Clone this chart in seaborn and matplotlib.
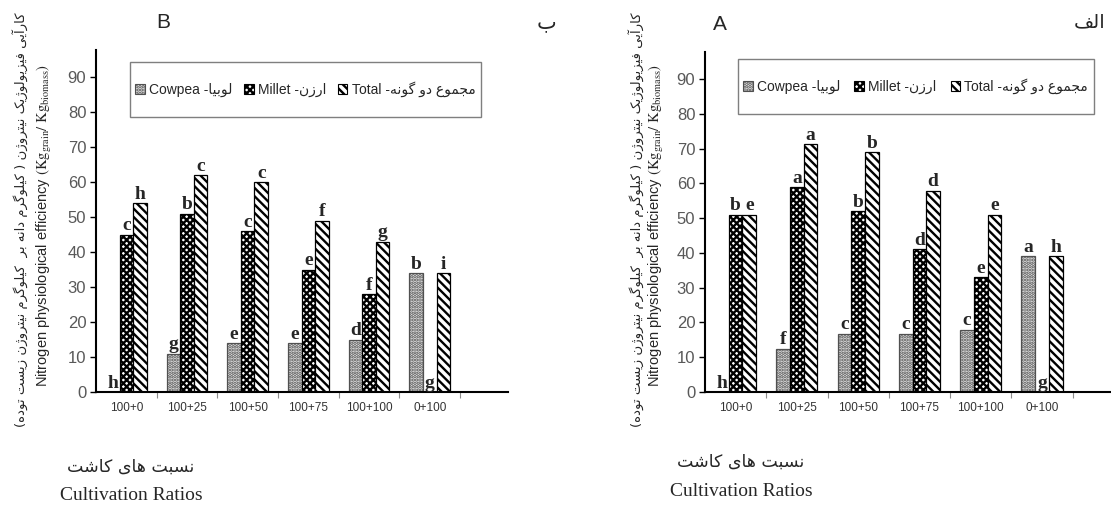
import matplotlib
matplotlib.use("Agg")
import matplotlib.pyplot as plt
from matplotlib.patches import Patch, Rectangle
import pandas as pd
import seaborn as sns

ratios = ["100+0", "100+25", "100+50", "100+75", "100+100", "0+100"]
crops = ["Cowpea", "Millet", "Total"]

# panel B (ب)
b_cowpea = [0, 11, 14, 14, 15, 34]
b_millet = [45, 51, 46, 35, 28, 0]
b_total = [54, 62, 60, 49, 43, 34]
b_letters = {
    "Cowpea": ["h", "g", "e", "e", "d", "b"],
    "Millet": ["c", "b", "c", "e", "f", "g"],
    "Total": ["h", "c", "c", "f", "g", "i"],
}

# panel A (الف)
a_cowpea = [0, 12.4, 16.8, 16.8, 17.9, 39]
a_millet = [51, 58.9, 52, 41, 33, 0]
a_total = [51, 71.3, 68.9, 57.9, 51, 39]
a_letters = {
    "Cowpea": ["h", "f", "c", "c", "c", "a"],
    "Millet": ["b", "a", "b", "d", "e", "g"],
    "Total": ["e", "a", "b", "d", "e", "h"],
}

legend_fa = {"Cowpea": "لوبیا", "Millet": "ارزن", "Total": "مجموع دو گونه"}
ylabel_fa = "کارآیی فیزیولوژیک نیتروژن ( کیلوگرم دانه بر  کیلوگرم نیتروژن زیست توده)"
xlabel_fa = "نسبت های کاشت"
xlabel_en = "Cultivation Ratios"
ylabel_en = (r"Nitrogen physiological efficiency "
             r"$(\mathrm{Kg}_{\mathrm{grain}}/\ \mathrm{Kg}_{\mathrm{biomass}})$")

# matplotlib does no Arabic shaping, so pick presentation forms by hand
FORMS = {
    "\u0627": "\uFE8D\uFE8E", "\u0622": "\uFE81\uFE82",
    "\u0628": "\uFE8F\uFE90\uFE91\uFE92", "\u062A": "\uFE95\uFE96\uFE97\uFE98",
    "\u062C": "\uFE9D\uFE9E\uFE9F\uFEA0", "\u062F": "\uFEA9\uFEAA",
    "\u0631": "\uFEAD\uFEAE", "\u0632": "\uFEAF\uFEB0", "\u0698": "\uFB8A\uFB8B",
    "\u0633": "\uFEB1\uFEB2\uFEB3\uFEB4", "\u0634": "\uFEB5\uFEB6\uFEB7\uFEB8",
    "\u0639": "\uFEC9\uFECA\uFECB\uFECC", "\u0641": "\uFED1\uFED2\uFED3\uFED4",
    "\u06A9": "\uFB8E\uFB8F\uFB90\uFB91", "\u06AF": "\uFB92\uFB93\uFB94\uFB95",
    "\u0644": "\uFEDD\uFEDE\uFEDF\uFEE0", "\u0645": "\uFEE1\uFEE2\uFEE3\uFEE4",
    "\u0646": "\uFEE5\uFEE6\uFEE7\uFEE8", "\u0647": "\uFEE9\uFEEA\uFEEB\uFEEC",
    "\u0648": "\uFEED\uFEEE", "\u06CC": "\uFBFC\uFBFD\uFBFE\uFBFF",
}


def fa(text):
    s = text.replace("\u0643", "\u06A9").replace("\u064A", "\u06CC")
    out = []
    for i, ch in enumerate(s):
        forms = FORMS.get(ch)
        if forms is None:
            out.append({"(": ")", ")": "("}.get(ch, ch))
            continue
        prev = s[i - 1] if i > 0 else ""
        nxt = s[i + 1] if i + 1 < len(s) else ""
        jp = len(FORMS.get(prev, "")) == 4
        jn = len(forms) == 4 and nxt in FORMS
        idx = 3 if (jp and jn) else 1 if jp else 2 if jn else 0
        out.append(forms[idx])
    return "".join(reversed(out))


sns.set_style("white")
plt.rcParams["font.family"] = ["Liberation Sans", "DejaVu Sans"]
plt.rcParams["mathtext.fontset"] = "stix"
plt.rcParams["hatch.linewidth"] = 1.7

styles = {
    "Cowpea": dict(facecolor="#e6e6e6", edgecolor="#505050", hatch="....."),
    "Millet": dict(facecolor="white", edgecolor="black", hatch="xxxxx"),
    "Total": dict(facecolor="white", edgecolor="black", hatch="\\\\\\\\"),
}


def draw_panel(ax, cowpea, millet, total, letters, xmax, legend_box):
    df = pd.DataFrame({
        "ratio": ratios * 3,
        "crop": [c for c in crops for _ in ratios],
        "value": cowpea + millet + total,
    })
    sns.barplot(data=df, x="ratio", y="value", hue="crop", order=ratios,
                hue_order=crops, width=0.67, saturation=1, errorbar=None,
                legend=False, ax=ax)
    for cont, crop in zip(ax.containers, crops):
        for bar in cont:
            bar.set(linewidth=0.9, **styles[crop])
        ax.bar_label(cont, labels=letters[crop], padding=0.3, fontsize=14,
                     fontweight="bold", family="Liberation Serif")

    ax.set_xlim(-0.5, xmax)
    ax.set_ylim(0, 97.8)
    ax.set_yticks(range(0, 91, 10))
    ax.set_xticks([i + 0.5 for i in range(6)], minor=True)
    ax.set_xlabel("")
    ax.set_ylabel("")
    sns.despine(ax=ax)
    for side in ("left", "bottom"):
        ax.spines[side].set_linewidth(1.5)
        ax.spines[side].set_color("black")
    ax.tick_params(axis="y", which="major", direction="out", length=4,
                   width=1, color="black", labelsize=12,
                   labelcolor="#595959", left=True, pad=3)
    ax.tick_params(axis="x", which="major", length=0, labelsize=8.5,
                   labelcolor="#333333", pad=7)
    ax.tick_params(axis="x", which="minor", direction="out", length=4,
                   width=0.8, color="#8c8c8c", bottom=True)

    x0, y0, w, h = legend_box
    ax.add_patch(Rectangle((x0, y0), w, h, transform=ax.transAxes, fill=False,
                           edgecolor="#7f7f7f", linewidth=1, clip_on=False))
    handles = [Patch(linewidth=0.8, **styles[c]) for c in crops]
    labels = [f"{c} -{fa(legend_fa[c])}" for c in crops]
    ax.legend(handles, labels, loc="center", bbox_to_anchor=legend_box,
              mode="expand", ncol=3, frameon=False, fontsize=10,
              handlelength=0.7, handleheight=0.7, handletextpad=0.3,
              columnspacing=0.8, borderaxespad=0)


W, H = 1111, 505
fig = plt.figure(figsize=(W / 100, H / 100), dpi=100)
axB = fig.add_axes([96 / W, 1 - 392 / H, 412 / W, 342 / H])
axA = fig.add_axes([705 / W, 1 - 392 / H, 405 / W, 340 / H])

draw_panel(axB, b_cowpea, b_millet, b_total, b_letters, 6.29,
           (0.082, 0.804, 0.852, 0.161))
draw_panel(axA, a_cowpea, a_millet, a_total, a_letters, 6.11,
           (0.081, 0.818, 0.879, 0.162))

for xp, xe, xc, yfa, yen in [(20, 45, 131, 467, 496), (636, 656, 741, 462, 491)]:
    fig.text(xp / W, 1 - 220 / H, fa(ylabel_fa), rotation=90, ha="center",
             va="center", fontsize=9.5, family="DejaVu Sans")
    fig.text(xe / W, 1 - 225 / H, ylabel_en, rotation=90, ha="center",
             va="center", fontsize=10.5)
    fig.text(xc / W, 1 - yfa / H, fa(xlabel_fa), ha="center", va="center",
             fontsize=12.5, family="DejaVu Sans")
    fig.text(xc / W, 1 - yen / H, xlabel_en, ha="center", va="center",
             fontsize=14, family="Liberation Serif")

fig.text(163 / W, 1 - 22 / H, "B", ha="center", va="center", fontsize=15)
fig.text(547 / W, 1 - 22 / H, fa("ب"), ha="center", va="center", fontsize=15,
         family="DejaVu Sans")
fig.text(720 / W, 1 - 25 / H, "A", ha="center", va="center", fontsize=15)
fig.text(1090 / W, 1 - 22 / H, fa("الف"), ha="center", va="center",
         fontsize=14, family="DejaVu Sans")

fig.savefig("out.png", dpi=100)
